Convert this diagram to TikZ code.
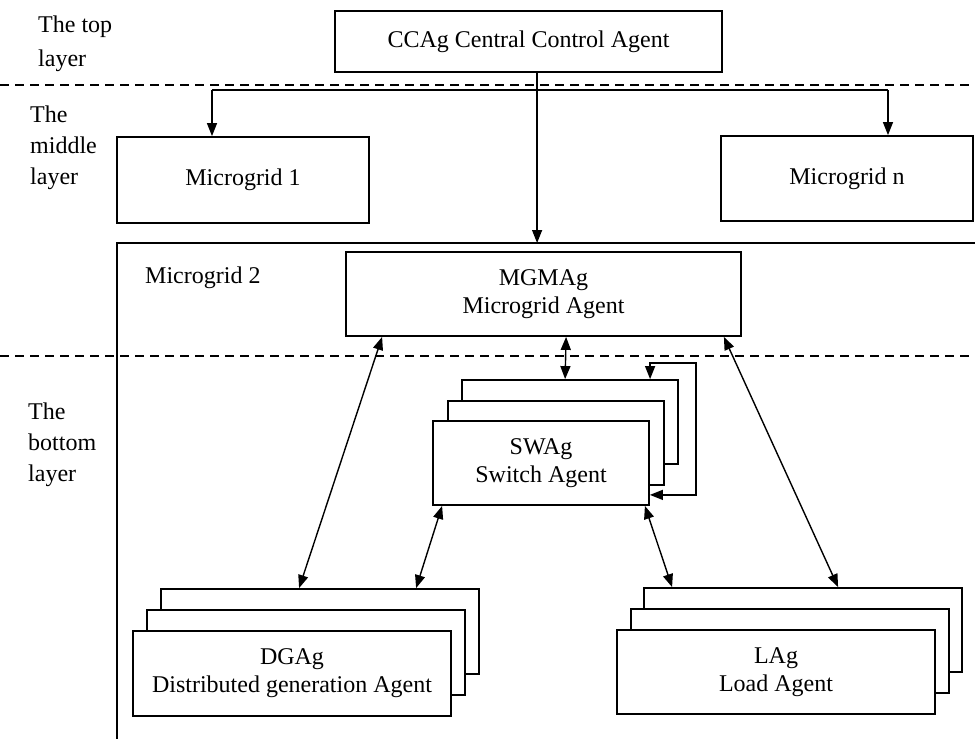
\documentclass[tikz,border=0pt]{standalone}
\usepackage{fontspec}                 % Polices
\setmainfont{Liberation Serif}
\usepackage{tikz}
\usetikzlibrary{calc,                 % Calculs de coordonnées entre $ $
           arrows.meta}               % Pointes de flèches
\tikzset{
  agent/.style = {draw, line width=1.8pt, fill=white, align=center,
                  font=\fontsize{24}{28}\selectfont, inner sep=0},
  couche/.style = {align=left, anchor=west, inner sep=0,
                   font=\fontsize{24}{31}\selectfont},
  lien/.style = {line width=1.4pt, -{Triangle[length=13pt,width=10pt]}},
  dlien/.style = {line width=1.4pt,
                  {Triangle[length=13pt,width=10pt]}-{Triangle[length=13pt,width=10pt]}},
  limite/.style = {line width=1.6pt, dash pattern=on 9pt off 6pt},
  cadre/.style = {line width=1.6pt}
}

\begin{document}
\begin{tikzpicture}[x=1pt,y=-1pt]
\useasboundingbox (0,0) rectangle (975,739);
% couches
\draw[limite] (0,85) -- (975,85);
\draw[limite] (0,356) -- (975,356);
\node[couche](Ltop) at (38,44){The top\\[3pt]layer};
\node[couche](Lmid) at (30,148){The\\middle\\layer};
\node[couche](Lbot) at (28,445){The\\bottom\\layer};
% niveau haut et milieu
\node[agent, minimum width=387pt, minimum height=61pt](CC) at (528.5,41.5){CCAg Central Control Agent};
\node[agent, minimum width=252pt, minimum height=86pt](M1) at (243,180){Microgrid 1};
\node[agent, minimum width=252pt, minimum height=85pt](Mn) at (847,178.5){Microgrid n};
\coordinate (mg2) at (117,243);
\draw[cadre] (117,739) -- (mg2) -- (975,243);
\node[couche](MG2lab) at (145,278){Microgrid 2};
\node[agent, minimum width=395pt, minimum height=84pt](MG) at (543.5,294){MGMAg\\Microgrid Agent};
\coordinate (cc) at ($(CC.south west)+(203,0)$);
\coordinate (barL) at (212,90);
\coordinate (barR) at (888,90);
\draw[line width=1.4pt] (barL) -- (barR);
\draw[lien] (barL) -- (barL |- M1.north);
\draw[lien] (barR) -- (barR |- Mn.north);
\draw[lien] (cc) -- (cc |- mg2);
% niveau bas
\node[agent, minimum width=216pt, minimum height=84pt](SW3) at (570,422){};
\node[agent, minimum width=216pt, minimum height=84pt](SW2) at (556,443){};
\node[agent, minimum width=216pt, minimum height=84pt](SW) at (541,463){SWAg\\Switch Agent};
\node[agent, minimum width=318pt, minimum height=85pt](DG3) at (320,631.5){};
\node[agent, minimum width=318pt, minimum height=85pt](DG2) at (306,652.5){};
\node[agent, minimum width=318pt, minimum height=85pt](DG) at (292,673.5){DGAg\\Distributed generation Agent};
\node[agent, minimum width=318pt, minimum height=84pt](LA3) at (803,630){};
\node[agent, minimum width=318pt, minimum height=84pt](LA2) at (790,651){};
\node[agent, minimum width=318pt, minimum height=84pt](LA) at (776,672){LAg\\Load Agent};
\draw[dlien] ($(MG.south west)+(37,0)$) -- ($(DG3.north west)+(139,0)$);
\draw[dlien] ($(MG.south east)+(-18,0)$) -- ($(LA3.north west)+(195,0)$);
\draw[dlien] ($(MG.south west)+(221,0)$) -- ($(SW3.north west)+(104,0)$);
\draw[dlien] ($(SW.south west)+(10,0)$) -- ($(DG3.north west)+(256,0)$);
\draw[dlien] ($(SW.south east)+(-5,0)$) -- ($(LA3.north west)+(29,0)$);
\draw[dlien] ($(SW3.north west)+(189,0)$) -- ++(0,-16) -| ($(SW.south east)+(46,-11)$) -- ($(SW.south east)+(0,-11)$);
\end{tikzpicture}
\end{document}
